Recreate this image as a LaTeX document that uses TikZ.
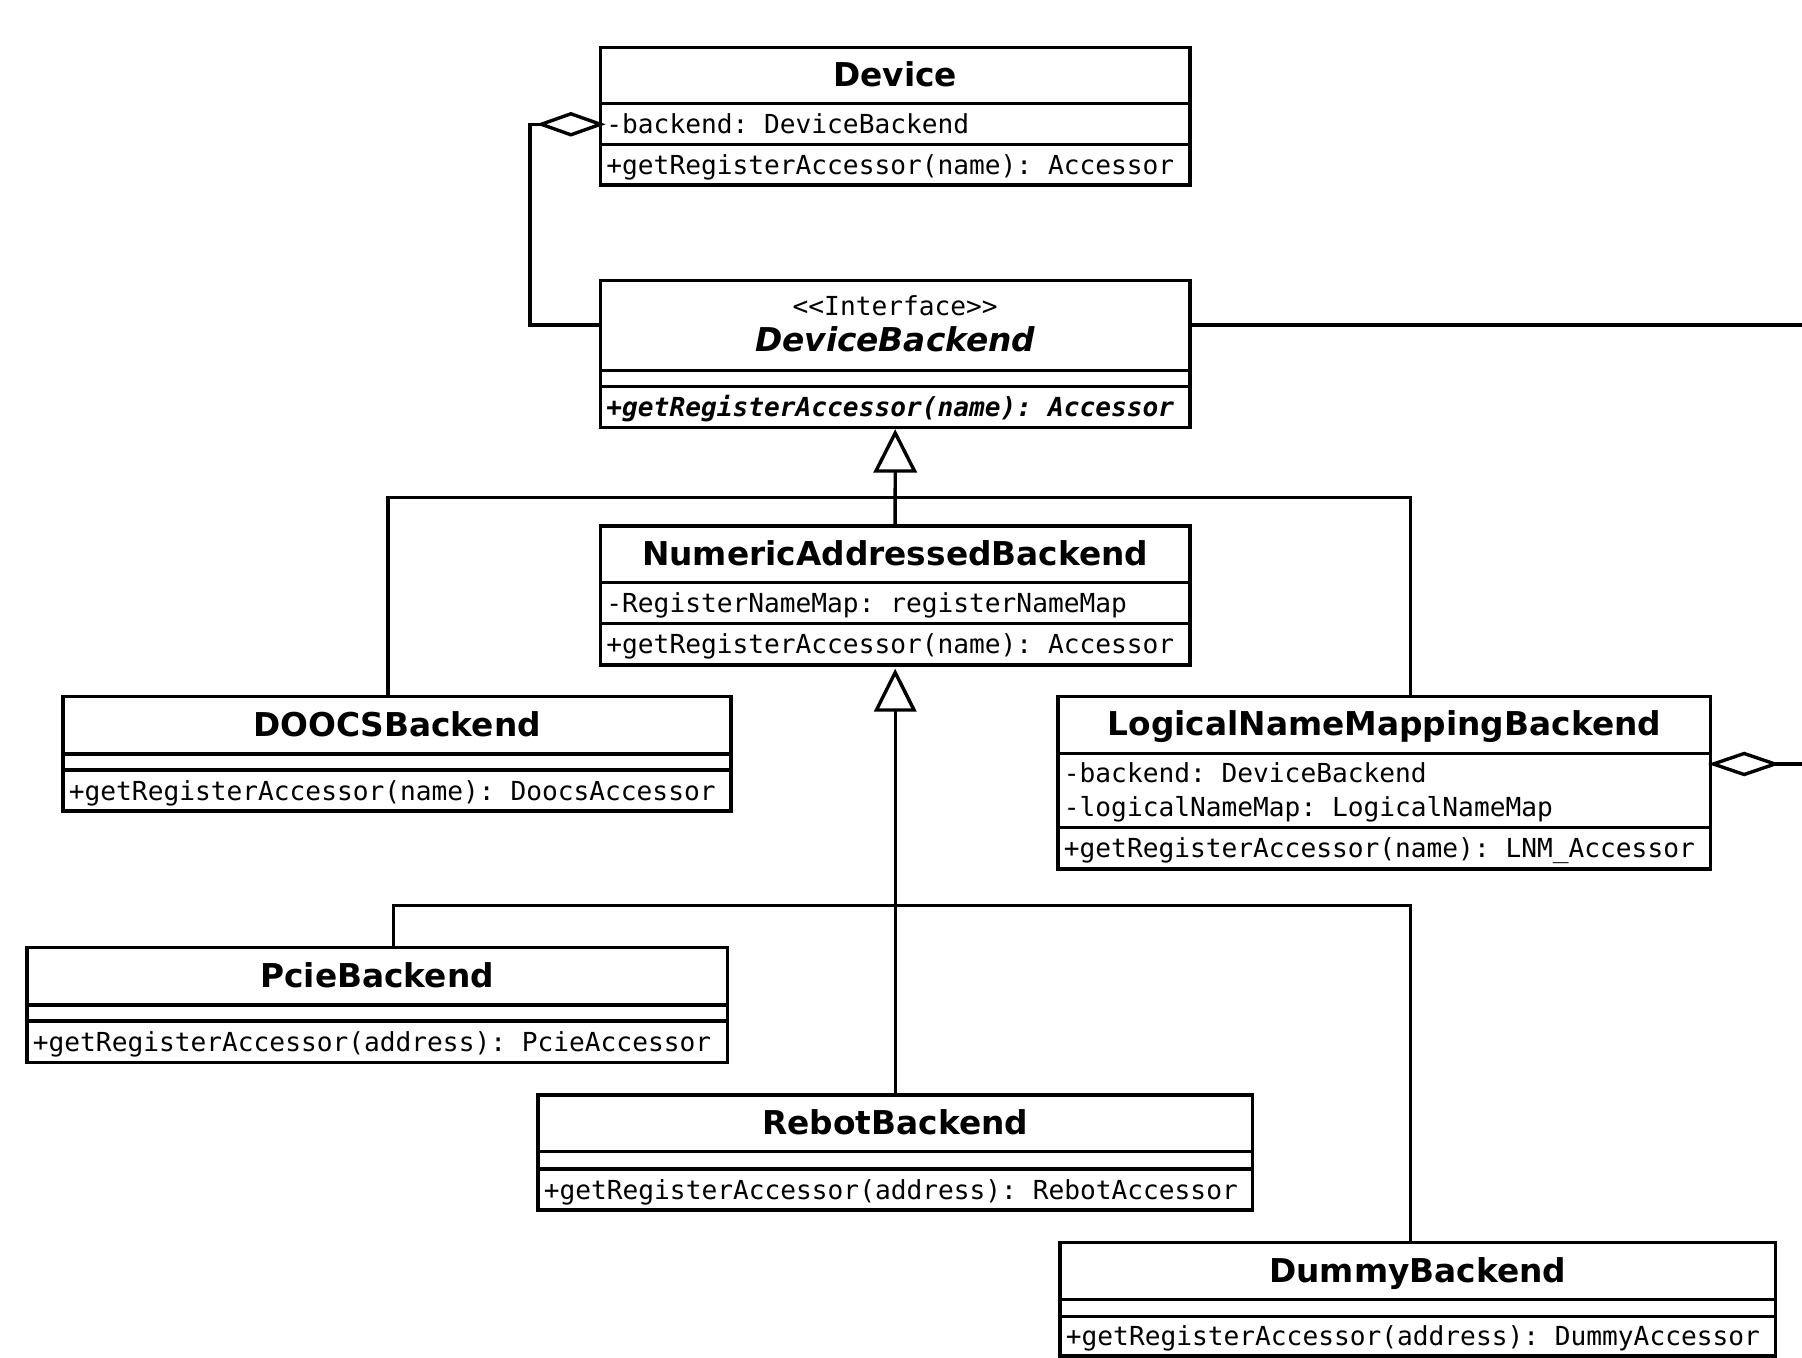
\documentclass[tikz,border=0pt]{standalone}
\usepackage{fontspec}
\setmainfont{DejaVu Sans}
\newfontfamily\monofont{DejaVu Sans Mono}
\usetikzlibrary{fit}
\frenchspacing

\tikzset{
  classbox/.style={draw, line width=1.7pt, inner sep=0pt, outer sep=0pt, fill=white},
  classsep/.style={line width=1.7pt},
  conn/.style={line width=1.7pt},
  headfill/.style={draw, line width=1.7pt, fill=white, line join=miter},
  classtitle/.style={anchor=base, inner sep=0pt, font=\fontsize{16.4}{19}\selectfont\bfseries},
  abstracttitle/.style={classtitle, font=\fontsize{16.4}{19}\selectfont\bfseries\itshape},
  stereotype/.style={anchor=base, inner sep=0pt, font=\monofont\fontsize{13.1}{16}\selectfont},
  member/.style={anchor=base west, inner sep=0pt, font=\monofont\fontsize{13.1}{16}\selectfont},
  abstractmember/.style={member, font=\monofont\fontsize{13.1}{16}\selectfont\bfseries\itshape},
}

% a class box: name, x1, y1, x2, y2, first separator y, second separator y
\newcommand\umlbox[7]{%
  \node[classbox, fit={(#2,#3) (#4,#5)}] (#1) {};
  \draw[classsep] (#2,#6) -- (#4,#6) (#2,#7) -- (#4,#7);
}

\begin{document}
\begin{tikzpicture}[x=0.5pt, y=-0.5pt]
\useasboundingbox (0,0) rectangle (1802,1358);

% ---------- classes ----------
\umlbox{dev}{600.5}{47.3}{1189.8}{185}{103.5}{144.5}
\node[classtitle] (dev-title) at (895.2,86.2) {Device};
\node[member] (dev-attr) at (606,133.3) {-backend: DeviceBackend};
\node[member] (dev-meth) at (606,174.2) {+getRegisterAccessor(name): Accessor};

\umlbox{dback}{600.5}{280.7}{1189.8}{427.5}{370.7}{386.7}
\node[stereotype] (dback-st) at (895.2,315.5) {<{}<Interface>{}>};
\node[abstracttitle] (dback-title) at (895.2,351.7) {DeviceBackend};
\node[abstractmember] (dback-meth) at (606,416.7) {+getRegisterAccessor(name): Accessor};

\umlbox{num}{600.5}{526}{1189.8}{665}{582.7}{623.3}
\node[classtitle] (num-title) at (895.2,565.3) {NumericAddressedBackend};
\node[member] (num-attr) at (606,612.5) {-RegisterNameMap: registerNameMap};
\node[member] (num-meth) at (606,653.7) {+getRegisterAccessor(name): Accessor};

\umlbox{doocs}{63}{696.7}{731}{811}{754}{770}
\node[classtitle] (doocs-title) at (397,736.3) {DOOCSBackend};
\node[member] (doocs-meth) at (68.5,800) {+getRegisterAccessor(name): DoocsAccessor};

\umlbox{lnm}{1058}{696.3}{1710.6}{869}{753.3}{827.7}
\node[classtitle] (lnm-title) at (1384.3,735.7) {LogicalNameMappingBackend};
\node[member] (lnm-attr1) at (1063.5,782.8) {-backend: DeviceBackend};
\node[member] (lnm-attr2) at (1063.5,816.2) {-logicalNameMap: LogicalNameMap};
\node[member] (lnm-meth) at (1063.5,857.8) {+getRegisterAccessor(name): LNM\_Accessor};

\umlbox{pcie}{27}{947.3}{727.3}{1062.3}{1005}{1021}
\node[classtitle] (pcie-title) at (377.2,987.2) {PcieBackend};
\node[member] (pcie-meth) at (32.5,1051.2) {+getRegisterAccessor(address): PcieAccessor};

\umlbox{rebot}{537.9}{1095}{1252.7}{1210}{1151.7}{1169}
\node[classtitle] (rebot-title) at (895.3,1134.3) {RebotBackend};
\node[member] (rebot-meth) at (543.4,1199) {+getRegisterAccessor(address): RebotAccessor};

\umlbox{dummy}{1060}{1242.7}{1775.7}{1356}{1299.3}{1316.7}
\node[classtitle] (dummy-title) at (1417.8,1282) {DummyBackend};
\node[member] (dummy-meth) at (1065.5,1345.8) {+getRegisterAccessor(address): DummyAccessor};

% ---------- aggregation: Device -> DeviceBackend ----------
\coordinate (devdia-r) at (600.5,124.3);
\coordinate (devdia-l) at (541.3,124.3);
\coordinate (aggbend) at (529.8,325);
\draw[conn] (dback.west |- aggbend) -- (aggbend) |- (devdia-l);
\draw[headfill] (devdia-r) -- ++(-29.6,-10.5) -- (devdia-l) -- ++(29.6,10.5) -- cycle;

% ---------- links leaving to the right ----------
\coordinate (outA) at (1802,325);
\draw[conn] (dback.east |- outA) -- (outA);
\coordinate (lnmdia-l) at (1713.3,764);
\coordinate (lnmdia-r) at (1775,764);
\coordinate (outB) at (1802,764);
\draw[conn] (lnmdia-r) -- (outB);
\draw[headfill] (lnmdia-l) -- ++(30.85,-10.5) -- (lnmdia-r) -- ++(-30.85,10.5) -- cycle;

% ---------- generalisation to DeviceBackend ----------
\coordinate (tri1-tip) at (895.2,433);
\coordinate (tri1-base) at (895.2,471);
\coordinate (busA-l) at (387.8,497.3);
\coordinate (busA-r) at (1410.2,497.3);
\draw[conn] (doocs.north -| busA-l) -- (busA-l) -- (busA-r) -- (lnm.north -| busA-r);
\draw[conn] (num.north) -- (tri1-base);
\draw[headfill] (tri1-tip) -- ++(-19.3,38) -- ++(38.6,0) -- cycle;

% ---------- generalisation to NumericAddressedBackend ----------
\coordinate (tri2-tip) at (895.2,672.5);
\coordinate (tri2-base) at (895.2,710);
\coordinate (busB-l) at (393.2,905.5);
\coordinate (busB-r) at (1410.3,905.5);
\draw[conn] (pcie.north -| busB-l) -- (busB-l) -- (busB-r) -- (dummy.north -| busB-r);
\draw[conn] (rebot.north -| tri2-base) -- (tri2-base);
\draw[headfill] (tri2-tip) -- ++(-18.8,37.5) -- ++(37.6,0) -- cycle;
\end{tikzpicture}
\end{document}
